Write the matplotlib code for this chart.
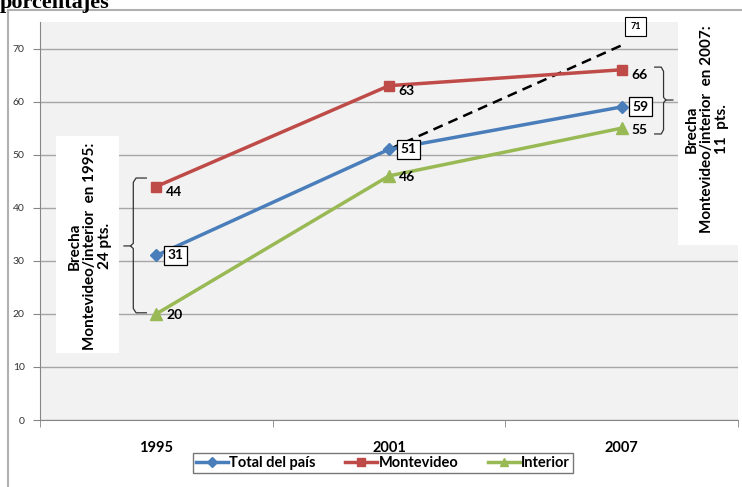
import matplotlib.pyplot as plt
from matplotlib.patches import Rectangle

# datos
anios = ['1995', '2001', '2007']
total = [31, 51, 59]
montevideo = [44, 63, 66]
interior = [20, 46, 55]
proyeccion = [51, 71]
yticks = [0, 10, 20, 30, 40, 50, 60, 70]

azul = '#4a7ebb'
rojo = '#be4b48'
verde = '#98b954'

plt.rcParams['font.family'] = ['Lato', 'DejaVu Sans']

fig = plt.figure(figsize=(7.42, 4.87), dpi=100)
ax = fig.add_axes([40 / 742, 67 / 487, 698 / 742, 398 / 487])
ax.set_facecolor('#f2f2f2')

# marco exterior y titulo cortado
fig.patches.append(Rectangle((8 / 742, -0.01), 0.995, (487 - 10) / 487 + 0.01,
                             transform=fig.transFigure, fill=False,
                             edgecolor='#b0b0b0', lw=1.5))
fig.text(0.0, 1 - 8 / 487, 'porcentajes', family='Liberation Serif',
         fontweight='bold', fontsize=16, va='baseline', ha='left')

x = range(len(anios))
ax.plot(x, total, color=azul, lw=2.5, marker='D', ms=6, label='Total del país', zorder=4)
ax.plot(x, montevideo, color=rojo, lw=2.5, marker='s', ms=7, label='Montevideo', zorder=4)
ax.plot(x, interior, color=verde, lw=2.5, marker='^', ms=8, label='Interior', zorder=4)

# linea proyectada
ax.plot([1, 2.02], proyeccion, color='black', lw=1.8, ls=(0, (4, 2.5)), zorder=3)
ax.annotate(str(proyeccion[1]), (2.02, proyeccion[1]), xytext=(3, 12),
            textcoords='offset points', fontsize=6.5, fontweight='bold',
            ha='left', va='center', annotation_clip=False,
            bbox=dict(boxstyle='square,pad=0.6', fc='white', ec='black', lw=0.8))

for i in x:
    ax.annotate(str(montevideo[i]), (i, montevideo[i]), xytext=(7, -4),
                textcoords='offset points', fontsize=10, fontweight='bold',
                ha='left', va='center', zorder=6)
    ax.annotate(str(interior[i]), (i, interior[i]), xytext=(7, -1),
                textcoords='offset points', fontsize=10, fontweight='bold',
                ha='left', va='center', zorder=6)
    ax.annotate(str(total[i]), (i, total[i]), xytext=(8, 0),
                textcoords='offset points', fontsize=10, fontweight='bold',
                ha='left', va='center', zorder=6,
                bbox=dict(boxstyle='square,pad=0.25', fc='white', ec='black', lw=0.9))

# cajas de texto de brecha
ax.add_patch(Rectangle((-0.433, 12.6), 0.274, 40.9, fc='white', ec='none', zorder=5))
ax.text(-0.285, 32.8, 'Brecha\nMontevideo/interior  en 1995:\n24 pts.', rotation=90,
        ha='center', va='center', fontsize=11, fontweight='bold', zorder=6,
        linespacing=1.1)
ax.add_patch(Rectangle((2.24, 33), 0.27, 42, fc='white', ec='none', zorder=5,
                       clip_on=False))
ax.text(2.368, 54.8, 'Brecha\nMontevideo/interior  en 2007:\n11  pts.', rotation=90,
        ha='center', va='center', fontsize=11, fontweight='bold', zorder=6,
        linespacing=1.1, clip_on=False)

# llaves
bx, by0, by1, bm = -0.099, 20.2, 45.6, 32.8
ax.plot([-0.043, bx + 0.012, bx, bx, bx - 0.012, bx - 0.04], [by1, by1, by1 - 0.8, bm + 0.5, bm, bm],
        color='#333333', lw=0.9, zorder=5)
ax.plot([-0.043, bx + 0.012, bx, bx, bx - 0.012], [by0, by0, by0 + 0.8, bm - 0.5, bm],
        color='#333333', lw=0.9, zorder=5)
rx, ry0, ry1, rm = 2.18, 53.9, 66.5, 60.3
ax.plot([2.142, rx - 0.01, rx, rx, rx + 0.01, rx + 0.04], [ry1, ry1, ry1 - 0.8, rm + 0.5, rm, rm],
        color='#333333', lw=0.9, zorder=5, clip_on=False)
ax.plot([2.142, rx - 0.01, rx, rx, rx + 0.01], [ry0, ry0, ry0 + 0.8, rm - 0.5, rm],
        color='#333333', lw=0.9, zorder=5, clip_on=False)

# ejes
ax.set_xlim(-0.5, 2.5)
ax.set_ylim(0, 75)
ax.set_yticks(yticks)
ax.set_yticklabels([str(v) for v in yticks], fontsize=7.5, color='#333333')
ax.grid(axis='y', color='#a6a6a6', lw=1)
ax.set_axisbelow(True)
ax.set_xticks(list(x))
ax.set_xticklabels(anios, fontsize=10.5, fontweight='bold')
ax.set_xticks([-0.5, 0.5, 1.5, 2.5], minor=True)
ax.tick_params(axis='x', which='major', length=0, pad=15)
ax.tick_params(axis='x', which='minor', length=5, color='#868686')
ax.tick_params(axis='y', length=5, color='#868686', pad=6)
for s in ['top', 'right']:
    ax.spines[s].set_visible(False)
for s in ['left', 'bottom']:
    ax.spines[s].set_color('#868686')

leg = ax.legend(loc='center', bbox_to_anchor=(383 / 742, 24 / 487), bbox_transform=fig.transFigure,
                ncol=3, frameon=True, fancybox=False,
                prop={'weight': 'bold', 'size': 10.5}, handlelength=2.2, handletextpad=0.1,
                columnspacing=2.0, borderpad=0.2, markerscale=0.8)
leg.get_frame().set_edgecolor('#555555')
leg.get_frame().set_linewidth(1)

fig.savefig('out.png', dpi=100)
